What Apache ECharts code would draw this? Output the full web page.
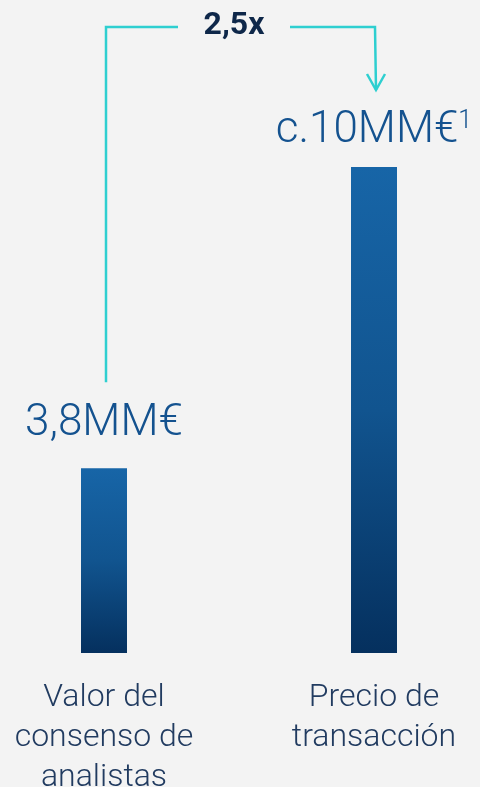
<!DOCTYPE html>
<html><head><meta charset="utf-8">
<script src="https://cdn.jsdelivr.net/npm/echarts@6/dist/echarts.min.js"></script>
<style>html,body{margin:0;padding:0;background:#f3f3f3}#c{width:480px;height:787px}</style>
</head><body><div id="c"></div>
<script>
const categories = ['Valor del\nconsenso de\nanalistas', 'Precio de\ntransacción'];
const values = [3.8, 10];
const valueLabels = ['3,8MM€', 'c.10MM€'];
const valueFootnotes = ['', '1'];
const multipleLabel = '2,5x';

const labelDistances = [22, 14];
const chart = echarts.init(document.getElementById('c'), null, {renderer: 'canvas'});
const FONT = 'Roboto, "Noto Sans", sans-serif';

const option = {
  backgroundColor: '#f3f3f3',
  animation: false,
  grid: {left: -31, width: 540, top: 167, bottom: 134, containLabel: false, outerBoundsMode: 'none'},
  xAxis: {
    type: 'category', data: categories,
    axisLine: {show: false}, axisTick: {show: false},
    axisLabel: {margin: 25, color: '#213b60', fontFamily: FONT, fontWeight: 300, fontSize: 32, lineHeight: 40, interval: 0}
  },
  yAxis: {type: 'value', min: 0, max: 10, show: false, splitLine: {show: false}},
  series: [{
    type: 'bar', barWidth: 46,
    itemStyle: {
      color: new echarts.graphic.LinearGradient(0, 0, 0, 1, [
        {offset: 0, color: '#1765a7'},
        {offset: 0.5, color: '#11548f'},
        {offset: 1, color: '#05305e'}
      ])
    },
    data: values.map((v, i) => ({
      value: v,
      label: {
        show: true, position: 'top', distance: labelDistances[i],
        formatter: '{a|' + valueLabels[i] + '}' + (valueFootnotes[i] ? '{s|' + valueFootnotes[i] + '}' : ''),
        rich: {
          a: {fontFamily: FONT, fontWeight: 300, fontSize: 44, color: '#14528f'},
          s: {fontFamily: FONT, fontWeight: 300, fontSize: 25, color: '#14528f', verticalAlign: 'top', padding: [0, 0, 18, 0]}
        }
      }
    }))
  }]
};
chart.setOption(option);

const p0 = chart.convertToPixel({seriesIndex: 0}, [0, values[0]]);
const p1 = chart.convertToPixel({seriesIndex: 0}, [1, values[1]]);
const topY = p1[1] - 140;
const leftX = p0[0] + 2;
const rightX = p1[0] + 1;
const leftEndY = p0[1] - 86;
const tipY = p1[1] - 77;
const midX = (p0[0] + p1[0]) / 2 - 5;
const cyan = '#2ecfd0';
chart.setOption({
  graphic: [
    {type: 'polyline', shape: {points: [[leftX, leftEndY], [leftX, topY], [midX - 56, topY]]}, style: {stroke: cyan, lineWidth: 2.5, fill: null}},
    {type: 'polyline', shape: {points: [[midX + 56, topY], [rightX, topY], [rightX + 1, tipY]]}, style: {stroke: cyan, lineWidth: 2.5, fill: null}},
    {type: 'polyline', shape: {points: [[rightX - 8, tipY - 16], [rightX + 1, tipY], [rightX + 10, tipY - 16]]}, style: {stroke: cyan, lineWidth: 2.5, fill: null}},
    {type: 'text', x: midX, y: topY - 1, style: {text: multipleLabel, fontFamily: FONT, fontWeight: 'bold', fontSize: 32, fill: '#0e2749', align: 'center', verticalAlign: 'middle'}}
  ]
});
</script></body></html>
